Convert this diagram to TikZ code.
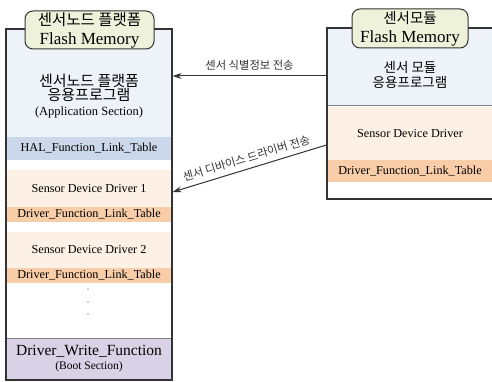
\documentclass[tikz,border=0pt]{standalone}
\usepackage{fontspec}
\setmainfont{Liberation Serif}
\newfontfamily\kr{Noto Sans CJK KR}
\usepackage{tikz}
\usetikzlibrary{positioning,arrows.meta}
\definecolor{frame}{HTML}{333333}
\definecolor{appblue}{HTML}{EEF3FA}
\definecolor{halblue}{HTML}{CBD7EA}
\definecolor{drvpeach}{HTML}{FDF1E6}
\definecolor{linkorange}{HTML}{F8CDA8}
\definecolor{bootlav}{HTML}{D9D2E6}
\definecolor{titlegreen}{HTML}{EEF2DA}

\begin{document}
\begin{tikzpicture}[x=1pt,y=-1pt,
    band/.style={minimum width=166pt,inner sep=0pt,outer sep=0pt,font=\fontsize{12.2}{14}\selectfont},
    memtitle/.style={draw=frame,line width=1pt,fill=titlegreen,rounded corners=8pt,align=center,
      inner sep=0pt,font=\fontsize{17}{19}\selectfont},
    membox/.style={draw=frame,line width=1.3pt,minimum width=166pt,inner sep=0pt},
    xfer/.style={-{Stealth[length=9pt,width=6pt]},line width=1pt,frame},
    xferlbl/.style={font=\kr\fontsize{11.3}{13}\selectfont,inner sep=2pt}]
  \useasboundingbox (0,0) rectangle (492,382);
  \clip (0,0) rectangle (492,382);
  \fill[white] (0,0) rectangle (492,382);
  \node[band,fill=appblue,minimum height=108pt] (lapp) at (89,83) {};
  \node[align=center,font=\fontsize{12.5}{14.8}\selectfont] (lapptxt) at (89,96)
    {{\kr\fontsize{15}{14.8}\selectfont 센서노드 플랫폼}\\{\kr\fontsize{15}{14.8}\selectfont 응용프로그램}\\(Application Section)};
  \node[band,fill=halblue,minimum height=23pt] (hal) at (89,148.5) {HAL\_Function\_Link\_Table};
  \node[band,fill=drvpeach,minimum height=37pt] (drv1) at (89,188.5) {Sensor Device Driver 1};
  \node[band,fill=linkorange,minimum height=15pt] (link1) at (89,214.5) {Driver\_Function\_Link\_Table};
  \node[band,fill=drvpeach,minimum height=36pt] (drv2) at (89,250) {Sensor Device Driver 2};
  \node[band,fill=linkorange,minimum height=15pt] (link2) at (89,275.5) {Driver\_Function\_Link\_Table};
  \foreach \y in {289,302,314} \fill[frame] (88,\y) circle (0.6pt);
  \node[band,fill=bootlav,minimum height=42pt,align=center,font=\fontsize{15.5}{14}\selectfont] (boot) at (89,359)
    {Driver\_Write\_Function\\{\fontsize{11.5}{14}\selectfont (Boot Section)}};
  \draw[gray,line width=0.8pt] (boot.north west) -- (boot.north east);
  \node[membox,minimum height=351pt] (lbox) at (89,204.5) {};
  \node[memtitle,minimum width=129pt,minimum height=38pt] (ltitle) at (89.5,30)
    {{\kr\fontsize{15.5}{19}\selectfont 센서노드 플랫폼}\\Flash Memory};
  \node[band,fill=appblue,minimum height=77pt] (rapp) at (410,66.5) {};
  \node[align=center,font=\kr\fontsize{13.5}{15}\selectfont] (rapptxt) at (410,74.5) {센서 모듈\\응용프로그램};
  \node[band,fill=drvpeach,minimum height=53pt] (rdrv) at (410,133.5) {Sensor Device Driver};
  \node[band,fill=linkorange,minimum height=22pt] (rlink) at (410,171) {Driver\_Function\_Link\_Table};
  \draw[gray,line width=0.6pt] (rapp.south west) -- (rapp.south east);
  \node[membox,minimum height=171pt] (rbox) at (410,113.5) {};
  \node[memtitle,minimum width=116pt,minimum height=39pt] (rtitle) at (410,28.5)
    {{\kr\fontsize{14.5}{19}\selectfont 센서모듈}\\Flash Memory};
  \coordinate (idrow) at (0,76);
  \coordinate (drvfrom) at (0,145);
  \coordinate (drvto) at (0,192);
  \draw[xfer] (rbox.west |- idrow) -- node[xferlbl,above=3pt] {센서 식별정보 전송} (lbox.east |- idrow);
  \draw[xfer] (rbox.west |- drvfrom) -- node[xferlbl,sloped,above=3pt] {센서 디바이스 드라이버 전송} (lbox.east |- drvto);
\end{tikzpicture}
\end{document}
